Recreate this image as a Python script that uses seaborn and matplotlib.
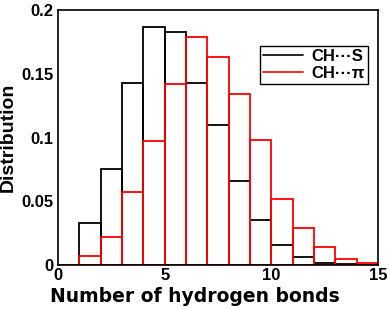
import numpy as np
import pandas as pd
import seaborn as sns
import matplotlib.pyplot as plt
from matplotlib.lines import Line2D
from matplotlib.ticker import MultipleLocator

# bins of width 1: value at n is the fraction with n..n+1 hydrogen bonds
ch_s_bins = [1, 2, 3, 4, 5, 6, 7, 8, 9, 10, 11, 12, 13]
ch_s_dist = [0.033, 0.075, 0.143, 0.187, 0.183, 0.143, 0.110, 0.066, 0.035, 0.016, 0.0065, 0.0016, 0.0004]

ch_pi_bins = [1, 2, 3, 4, 5, 6, 7, 8, 9, 10, 11, 12, 13, 14]
ch_pi_dist = [0.0068, 0.022, 0.057, 0.097, 0.142, 0.179, 0.163, 0.134, 0.098, 0.052, 0.029, 0.014, 0.005, 0.0012]

labels = ["CH\u00b7\u00b7\u00b7S", "CH\u00b7\u00b7\u00b7\u03c0"]
colors = ["black", "red"]

sns.set_style("white")
plt.rcParams['font.family'] = ['Liberation Sans', 'DejaVu Sans']
plt.rcParams['font.weight'] = 'bold'
# seaborn style makes text dark grey; the reference is pure black
plt.rcParams['text.color'] = 'black'
plt.rcParams['axes.labelcolor'] = 'black'
plt.rcParams['xtick.color'] = 'black'
plt.rcParams['ytick.color'] = 'black'

df_s = pd.DataFrame({'n': np.array(ch_s_bins) + 0.5, 'dist': ch_s_dist})
df_pi = pd.DataFrame({'n': np.array(ch_pi_bins) + 0.5, 'dist': ch_pi_dist})

fig = plt.figure(figsize=(3.9, 3.09), dpi=100)
ax = fig.add_axes([0.149, 0.1424, 0.82, 0.825])

edges = list(range(0, 16))  # list, not array (seaborn compares bins to "auto")
sns.histplot(data=df_s, x='n', weights='dist', bins=edges, element='bars', fill=False,
             color=colors[0], linewidth=1.3, ax=ax)
sns.histplot(data=df_pi, x='n', weights='dist', bins=edges, element='bars', fill=False,
             color=colors[1], linewidth=1.3, ax=ax)

ax.set_xlim(0, 15)
ax.set_ylim(0, 0.2)
ax.xaxis.set_major_locator(MultipleLocator(5))
ax.xaxis.set_minor_locator(MultipleLocator(2.5))
ax.yaxis.set_major_locator(MultipleLocator(0.05))
ax.yaxis.set_minor_locator(MultipleLocator(0.025))
ax.set_yticks([0, 0.05, 0.1, 0.15, 0.2])
ax.set_yticklabels(["0", "0.05", "0.1", "0.15", "0.2"])
ax.tick_params(which='both', direction='in', top=False, right=False, labelsize=12, width=1,
               colors='black')
ax.tick_params(which='major', length=7)
ax.tick_params(which='minor', length=4)
ax.tick_params(axis='x', pad=2)
for lab in ax.get_xticklabels() + ax.get_yticklabels():
    lab.set_fontweight('bold')
for sp in ax.spines.values():
    sp.set_linewidth(1.2)
    sp.set_color('black')

# wider font for the x label, like the reference
ax.set_xlabel("Number of hydrogen bonds", fontsize=13.5, fontweight='bold', family='DejaVu Sans')
ax.xaxis.set_label_coords(0.428, -0.086)
ax.set_ylabel("Distribution", fontsize=14, fontweight='bold', labelpad=3)

handles = [Line2D([0], [0], color=c, lw=1.2) for c in colors]
leg = ax.legend(handles, labels, loc='upper right', bbox_to_anchor=(0.97, 0.86),
                fancybox=False, framealpha=1, edgecolor='black', fontsize=12,
                handlelength=2.4, handletextpad=0.5, borderpad=0.2, labelspacing=0.1,
                borderaxespad=0)
leg.get_frame().set_linewidth(1.0)
for t in leg.get_texts():
    t.set_fontweight('bold')
    t.set_color('black')

fig.savefig("out.png", dpi=100)
